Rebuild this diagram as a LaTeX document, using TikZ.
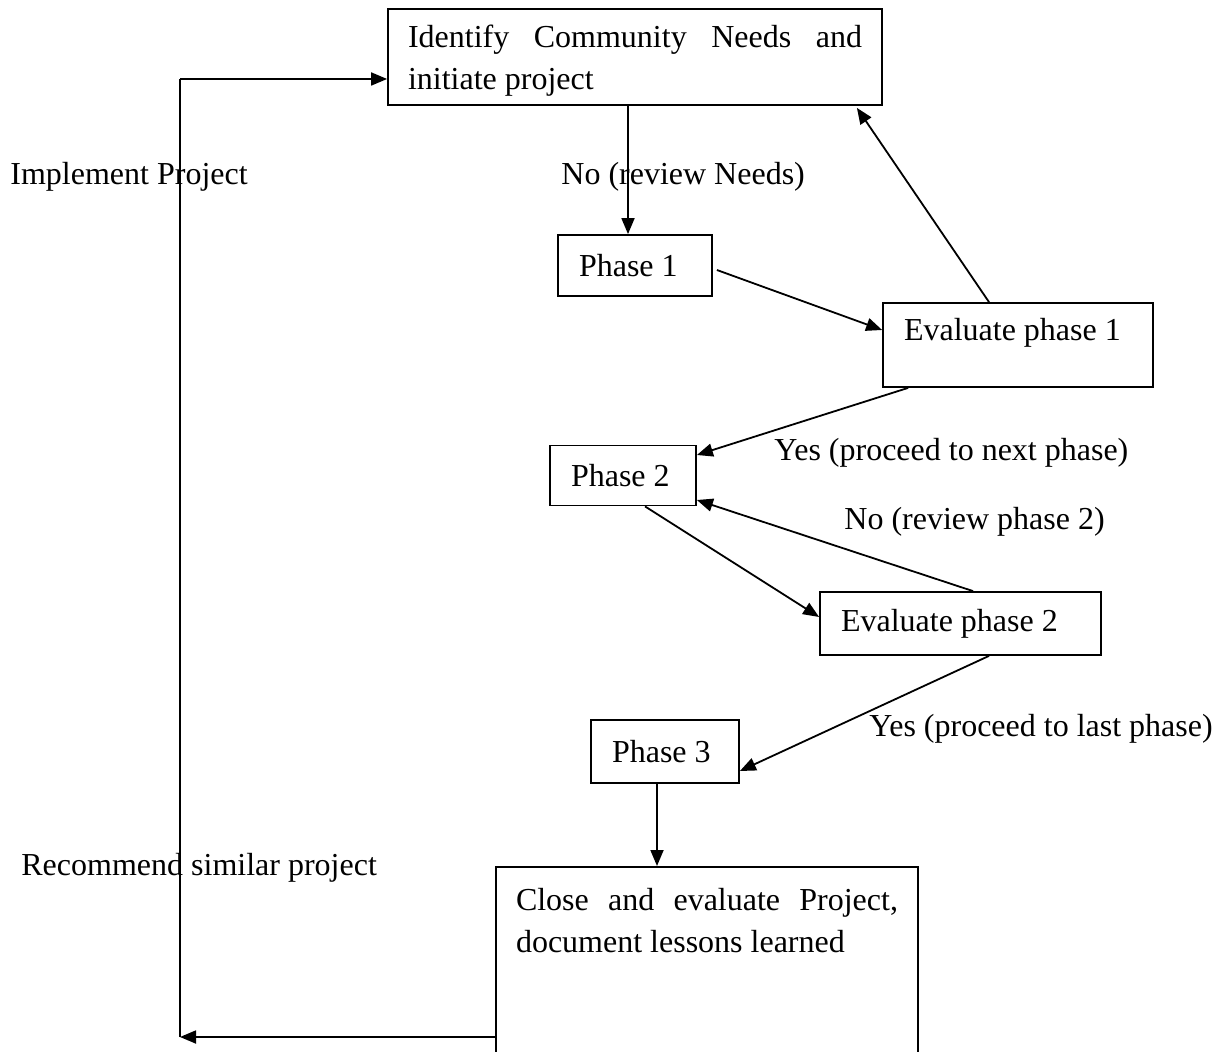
\documentclass[tikz,border=0pt]{standalone}
\usepackage{fontspec}
\setmainfont{Liberation Serif}
\usepackage{tikz}
\usetikzlibrary{arrows.meta, positioning, calc}
\hyphenpenalty=10000
\tolerance=10000
\tikzset{
  box/.style={rectangle, draw, line width=0.9pt, align=flush left,
              inner xsep=10.5pt, inner ysep=0pt},
  wordbox/.style={box, align=justify, inner xsep=10pt},
  arrow/.style={-{Triangle[length=8pt, width=6.5pt]}, line width=0.9pt},
  link/.style={line width=0.9pt},
  tag/.style={anchor=base west, inner sep=0pt},
}

\begin{document}
\begin{tikzpicture}[x=0.5pt, y=-0.5pt, font=\fontsize{16}{21}\selectfont]
  \useasboundingbox (0,0) rectangle (1219,1052);

  %% ── Boxes ────────────────────────────────────────────────────────────────
  \node[wordbox, text width=227pt, minimum height=48pt, text height=15pt] (need) at (635,57)
       {Identify Community Needs and initiate project};
  \node[box, text width=56pt,    minimum height=30.5pt] (phaseA) at (635,265.5) {Phase 1};
  \node[box, text width=114pt,   minimum height=42pt, text depth=16pt] (evalA) at (1018,345) {Evaluate phase 1};
  \node[box, text width=52pt,    minimum height=30pt]   (phaseB) at (623,475.5) {Phase 2};
  \node[box, text width=119.5pt, minimum height=31.5pt] (evalB) at (960.5,623.5) {Evaluate phase 2};
  \node[box, text width=53pt,    minimum height=31.5pt] (phaseC) at (665,751.5) {Phase 3};
  \node[wordbox, text width=191pt, anchor=north, inner ysep=10.5pt, text depth=100pt] (close) at (707,866)
       {Close and evaluate Project, document lessons learned};

  %% ── Decision labels ──────────────────────────────────────────────────────
  \node[tag] (implLbl)    at (10,185)  {Implement Project};
  \node[tag] (noNeedsLbl) at (561,185) {No (review Needs)};
  \node[tag] (yesNextLbl) at (774,461) {Yes (proceed to next phase)};
  \node[tag] (noPhaseLbl) at (844,530) {No (review phase 2)};
  \node[tag] (yesLastLbl) at (869,736) {Yes (proceed to last phase)};
  \node[tag] (recLbl)     at (21,875)  {Recommend similar project};

  %% ── Phase arrows ─────────────────────────────────────────────────────────
  \draw[arrow] ([xshift=-3.5pt]need.south) -- ([xshift=-3.5pt]phaseA.north);
  \draw[arrow] ([xshift=2pt,yshift=-2.25pt]phaseA.east) -- ([yshift=7.5pt]evalA.west);
  \draw[arrow] ([xshift=-14.5pt]evalA.north) -- ([xshift=-13pt,yshift=-1pt]need.south east);
  \draw[arrow] ([xshift=13pt]evalA.south west) -- ([yshift=10.25pt]phaseB.east);
  \draw[arrow] ([xshift=11pt]phaseB.south) -- ([yshift=3.25pt]evalB.west);
  \draw[arrow] ([xshift=6.25pt]evalB.north) -- ([yshift=-12.25pt]phaseB.east);
  \draw[arrow] ([xshift=14.25pt]evalB.south) -- ([yshift=-9.75pt]phaseC.east);
  \draw[arrow] ([xshift=-4pt]phaseC.south) -- ([xshift=-4pt]phaseC.south |- close.north);

  %% ── Feedback loop (left side) ────────────────────────────────────────────
  \coordinate (loopB) at (180,1037);
  \coordinate (loopT) at (180,79);
  \draw[arrow] (close.west |- loopB) -- (loopB);
  \draw[link]  (loopB) -- (loopT);
  \draw[arrow] (loopT) -- (need.west |- loopT);

\end{tikzpicture}
\end{document}
